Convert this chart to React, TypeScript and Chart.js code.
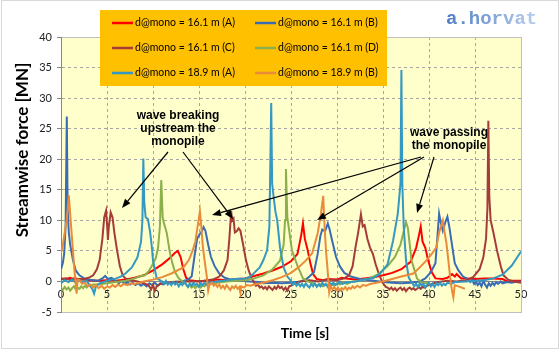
import React, { useEffect, useRef } from 'react';
import { Chart, registerables } from 'chart.js';
Chart.register(...registerables);

// ---- data (time [s], streamwise force [MN]) ----
const SERIES_LABELS = [
  'd@mono = 16.1 m (A)',
  'd@mono = 16.1 m (B)',
  'd@mono = 16.1 m (C)',
  'd@mono = 16.1 m (D)',
  'd@mono = 18.9 m (A)',
  'd@mono = 18.9 m (B)',
];
const SERIES_COLORS = ['#FF0000', '#3A6CB4', '#A53C3A', '#8CAF4B', '#3399C2', '#E98B3A'];

const S161A: [number, number][] = [[0,0.5],[0.5,0.4],[1,0.6],[1.5,0.3],[2,0.4],[3,0.2],[4,0.1],[5,0.2],[6,0.1],[7,0.3],[8,0.6],[9,1.0],[10,1.8],[11,2.8],[11.8,3.8],[12.4,4.7],[12.7,5.0],[13.0,4.0],[13.3,2.0],[13.6,0.6],[14,0.2],[15,0.0],[16,0.1],[17,0.3],[18,0.2],[19,0.4],[20,0.5],[21,0.9],[22,1.3],[23,1.8],[24,2.4],[25,3.3],[25.7,4.5],[26.1,7.5],[26.3,9.5],[26.5,7.0],[26.8,5.2],[27.1,3.0],[27.4,1.2],[27.8,0.4],[28.5,0.2],[29,0.4],[30,0.3],[30.5,0.6],[31,0.5],[32,0.3],[33,0.5],[34,0.7],[35,1.0],[36,1.4],[37,2.0],[38,3.2],[38.6,5.5],[38.9,7.5],[39.1,9.0],[39.3,6.5],[39.6,5.5],[39.9,3.5],[40.3,1.5],[40.7,0.5],[41.5,0.4],[42,0.6],[42.5,1.2],[42.8,0.8],[43,1.2],[43.5,0.5],[44,0.5],[45,0.4],[46,0.5],[47,0.5],[48,0.4],[48.5,0.0],[49,0.1],[50,0.1]];

const S161B: [number, number][] = [[0,2.0],[0.2,3.0],[0.35,4.6],[0.5,9],[0.63,27.0],[0.72,12],[0.85,8],[1.0,6],[1.3,3.5],[1.6,1.8],[2.0,1.0],[2.5,0.5],[3,0.3],[3.5,0.2],[4,0.1],[4.5,0.5],[4.8,0.9],[5.1,0.4],[5.5,0.6],[6,0.0],[6.3,-0.3],[6.6,0.1],[6.9,-0.4],[7.2,-0.1],[7.5,-0.5],[7.8,-0.2],[8.1,-0.6],[8.4,-0.3],[8.7,-0.7],[9,-0.4],[9.3,-0.8],[9.6,-0.3],[9.9,-0.6],[10.2,-0.2],[10.5,-0.7],[10.8,-0.3],[11.1,-0.5],[11.5,-0.2],[12,-0.3],[12.5,0.0],[13,-0.1],[13.8,0.3],[14.2,0.8],[14.5,4.0],[14.8,7.0],[15.1,7.8],[15.3,8.2],[15.5,8.9],[15.7,8.3],[16.0,6.0],[16.3,4.0],[16.7,2.5],[17.2,1.3],[17.8,0.6],[18.5,0.3],[19.5,0.1],[20.5,0.0],[21.5,-0.1],[22,-0.3],[23,-0.2],[24,-0.3],[25,-0.2],[26,0.0],[26.6,0.3],[27.0,0.8],[27.5,1.5],[27.9,4.5],[28.2,7.5],[28.4,8.5],[28.7,8.2],[29.0,9.5],[29.2,8.5],[29.5,6.5],[29.9,4.0],[30.3,2.5],[30.8,1.4],[31.5,0.8],[32.5,0.4],[34,0.1],[35,-0.1],[36,-0.2],[37,-0.3],[38,-0.2],[39,0.0],[39.6,0.5],[40.2,1.5],[40.7,3.0],[40.9,7.0],[41.1,11.1],[41.3,9.5],[41.5,8.3],[41.8,9.8],[42.0,10.6],[42.2,9.0],[42.5,6.0],[42.8,3.0],[43.2,1.8],[43.7,0.8],[44.3,0.3],[44.5,-0.1],[44.7,0.2],[44.9,-0.4],[45.1,0.0],[45.3,-0.6],[45.5,-0.2],[45.7,-0.8],[45.9,0.1],[46.1,-0.5],[46.3,-1.0],[46.5,-0.3],[46.7,-0.7],[46.9,-0.2],[47.1,-0.6],[47.3,-0.1],[47.5,-0.4],[47.8,0.0],[48,-0.3],[48.5,-0.1],[49,-0.2],[49.5,0.0],[50,-0.1]];

const S161C: [number, number][] = [[0,0.3],[0.5,0.5],[1,0.2],[1.5,0.6],[2,0.3],[2.5,0.4],[3,0.6],[3.5,1.0],[3.9,2.0],[4.2,3.5],[4.5,7.0],[4.7,10.5],[4.9,11.6],[5.0,9.5],[5.1,6.8],[5.2,9.0],[5.4,11.3],[5.6,10.5],[5.8,8.0],[6.1,5.0],[6.4,2.5],[6.7,1.0],[7.0,0.5],[7.5,0.2],[8,0.1],[8.5,-0.1],[9,-0.3],[9.5,-0.6],[9.8,-1.3],[10.0,-0.6],[10.2,-1.5],[10.4,-0.8],[10.8,-0.4],[11.5,-0.2],[12.5,-0.1],[13.5,0.0],[14.5,0.0],[15.5,0.1],[16.5,0.3],[17.2,0.8],[17.7,1.8],[18.1,3.5],[18.3,7.0],[18.5,11.5],[18.6,10.0],[18.75,10.3],[18.9,8.0],[19.1,8.2],[19.3,8.7],[19.5,8.3],[19.8,6.0],[20.1,3.5],[20.4,1.8],[20.7,0.6],[21.0,-0.2],[21.2,-0.7],[21.4,-0.5],[21.6,-1.0],[21.8,-0.8],[22.0,-1.2],[22.2,-0.9],[22.4,-1.3],[22.6,-0.8],[22.8,-1.1],[23.0,-1.4],[23.2,-0.9],[23.4,-1.2],[23.6,-0.7],[23.8,-1.1],[24.0,-0.9],[24.2,-1.4],[24.4,-1.0],[24.6,-1.5],[24.8,-0.8],[25.0,-0.7],[25.3,-0.4],[25.5,-0.3],[26,0.0],[27,0.2],[28,0.0],[29,0.3],[30,0.2],[30.8,0.5],[31.3,1.0],[31.7,2.5],[32.0,5.5],[32.3,8.0],[32.6,11.0],[32.8,9.0],[33.0,9.2],[33.3,7.0],[33.6,5.5],[33.9,4.5],[34.2,2.8],[34.6,1.0],[35.0,-0.3],[35.3,-0.9],[35.5,-1.0],[35.7,-1.3],[35.9,-1.0],[36.1,-1.4],[36.3,-1.1],[36.5,-1.5],[36.7,-1.2],[36.9,-1.0],[37.1,-1.4],[37.3,-1.1],[37.5,-1.6],[37.7,-1.2],[37.9,-1.0],[38.1,-1.3],[38.3,-1.1],[38.5,-1.4],[38.7,-1.2],[38.9,-0.9],[39.1,-1.2],[39.3,-0.9],[39.5,-1.0],[39.8,-0.7],[40,-0.6],[40.5,-0.3],[41,-0.1],[42,0.1],[43,0.0],[44,0.2],[44.8,0.7],[45.5,2.0],[45.9,3.9],[46.2,7.0],[46.35,12.0],[46.45,26.3],[46.55,14.0],[46.7,10.0],[47.0,8.0],[47.4,5.0],[47.8,2.5],[48.1,1.0],[48.6,0.3],[49.2,0.0],[50,-0.2]];

const S161D: [number, number][] = [[0,-1.0],[0.2,-1.4],[0.4,-0.9],[0.6,-1.3],[0.8,-1.0],[1,-1.5],[1.2,-1.1],[1.4,-0.8],[1.6,-1.3],[1.8,-1.0],[2,-1.2],[2.2,-0.8],[2.4,-1.1],[2.6,-0.7],[2.8,-1.0],[3,-0.6],[3.3,-0.8],[3.5,-0.5],[4,-0.5],[5,-0.3],[6,-0.1],[7,0.1],[7.5,0.3],[8,0.5],[8.5,0.8],[9.1,1.0],[9.5,1.6],[9.9,2.6],[10.3,3.8],[10.55,5.5],[10.75,9.0],[10.9,16.6],[11.05,10.5],[11.2,9.5],[11.5,7.9],[11.8,5.0],[12.1,3.0],[12.4,1.5],[12.8,0.5],[13.2,0.0],[13.6,-0.5],[13.8,-0.9],[14,-0.6],[14.2,-1.0],[14.4,-0.7],[14.6,-1.1],[14.8,-0.8],[15,-0.6],[15.2,-1.0],[15.4,-0.6],[15.6,-0.8],[15.8,-0.4],[16,-0.7],[16.3,-0.3],[16.6,-0.5],[17,-0.2],[18,0.0],[19,0.1],[20,0.2],[21,0.5],[22,1.0],[23,2.0],[23.8,3.4],[24.2,6.0],[24.35,10.0],[24.45,18.4],[24.6,10.5],[24.75,8.9],[25.1,5.1],[25.7,2.6],[26.3,0.5],[26.8,0.0],[27.5,-0.3],[27.8,-0.7],[28.1,-0.4],[28.4,-0.8],[28.7,-0.5],[29,-0.7],[29.3,-0.3],[29.6,-0.6],[30,-0.3],[30.3,-0.5],[30.7,-0.2],[31.1,-0.4],[31.5,-0.1],[32.5,0.1],[33.5,0.5],[34.5,1.2],[35.5,2.5],[36.3,4.0],[36.9,6.0],[37.3,8.5],[37.5,9.7],[37.7,8.8],[38.1,3.4],[38.7,0.5],[39.2,-0.2],[40,-0.3]];

const S189A: [number, number][] = [[0,-0.3],[0.4,0.2],[0.8,-0.1],[1.2,0.3],[1.6,-0.2],[2,0.2],[2.4,-0.1],[2.8,0.1],[3.1,-0.6],[3.4,-1.2],[3.6,-2.0],[3.8,-0.8],[4.2,-0.3],[4.8,0.0],[5.5,0.3],[6,0.5],[6.5,0.8],[7.0,1.3],[7.7,2.3],[8.3,3.9],[8.7,6.5],[8.85,10.0],[8.95,20.1],[9.05,13.0],[9.2,10.5],[9.45,10.2],[9.7,7.9],[9.85,6.0],[10.0,3.4],[10.4,0.5],[11.0,0.0],[11.2,-0.4],[11.4,0.1],[11.6,-0.5],[11.8,-0.2],[12,-0.6],[12.2,-0.1],[12.4,-0.5],[12.6,-0.2],[12.8,-0.8],[13,-0.3],[13.2,-0.6],[13.4,0.0],[13.6,-0.5],[13.8,-0.9],[14,-0.3],[14.2,-0.7],[14.4,-0.2],[14.6,-0.6],[14.8,-0.4],[15,-0.9],[15.2,-0.3],[15.4,-0.6],[15.6,-0.2],[15.8,-0.5],[16,-0.2],[17,0.0],[18,0.2],[19,0.4],[20,0.5],[20.5,0.7],[21.0,1.4],[21.6,2.3],[22.0,3.5],[22.4,5.1],[22.65,9.0],[22.85,29.2],[22.95,16.0],[23.1,14.0],[23.3,11.5],[23.5,10.0],[23.8,5.6],[24.2,2.3],[24.6,0.8],[25.0,0.1],[25.2,-0.5],[25.4,-0.2],[25.6,-0.7],[25.8,-0.3],[26,-0.8],[26.2,-0.4],[26.4,-0.9],[26.6,-0.3],[26.8,-0.7],[27,-1.0],[27.2,-0.4],[27.4,-0.8],[27.6,-0.3],[27.8,-0.9],[28,-0.5],[28.2,-0.8],[28.4,-0.2],[28.6,-0.7],[28.8,-0.4],[29,-0.9],[29.2,-0.3],[29.4,-0.6],[29.6,-0.2],[29.8,-0.6],[30,-0.4],[30.3,-0.1],[30.6,-0.4],[31,-0.2],[32,0.0],[33,0.3],[34,0.6],[34.7,1.3],[35.5,2.8],[36.1,6.7],[36.6,11.0],[36.9,16.0],[37.0,34.6],[37.1,16.0],[37.25,9.0],[37.5,3.5],[37.8,0.6],[38.2,-0.3],[38.4,-0.8],[38.6,-0.4],[38.8,-0.9],[39,-0.3],[39.2,-0.7],[39.4,-0.4],[39.6,-1.0],[39.8,-0.5],[40,-0.2],[40.2,-0.8],[40.4,-0.4],[40.6,-0.9],[40.8,-0.3],[41,-0.6],[41.2,-0.2],[41.4,-0.7],[41.6,-0.4],[41.8,-0.6],[42,-0.2],[42.4,-0.4],[42.8,-0.1],[43,-0.1],[44,0.0],[45,0.1],[46,0.2],[47,0.5],[48,1.1],[49,2.6],[50,4.9]];

const S189B: [number, number][] = [[0,4.7],[0.2,6.0],[0.4,8.0],[0.65,10.5],[0.85,14.1],[1.0,11.0],[1.15,8.0],[1.3,5.0],[1.45,2.0],[1.6,-0.5],[1.7,-2.0],[1.8,0.3],[2.0,0.2],[2.3,-0.4],[2.6,-0.2],[2.9,-0.8],[3.2,-0.5],[3.5,-1.0],[3.8,-0.6],[4.1,-1.1],[4.4,-0.7],[4.7,-1.2],[5.0,-0.8],[5.3,-1.0],[5.6,-0.6],[5.9,-0.9],[6.2,-0.5],[6.5,-0.8],[6.8,-0.4],[7.2,-0.6],[7.6,-0.3],[8,-0.4],[9,0.0],[10,0.3],[11,0.7],[12,1.3],[13.3,2.3],[13.9,3.5],[14.3,5.0],[14.6,6.5],[14.9,9.5],[15.1,11.5],[15.25,9.0],[15.4,6.0],[15.6,3.5],[15.85,0.8],[16.0,-1.5],[16.15,-0.5],[16.4,-0.2],[16.6,-0.7],[16.8,-0.4],[17,-0.9],[17.2,-0.5],[17.4,-1.1],[17.6,-0.7],[17.8,-1.2],[18,-0.6],[18.2,-1.0],[18.4,-1.4],[18.6,-0.8],[18.8,-1.1],[19,-0.7],[19.2,-1.2],[19.4,-0.9],[19.5,-1.8],[19.6,-0.8],[19.9,-1.0],[20.2,-0.6],[20.6,-0.7],[21,-0.5],[22,-0.2],[23,0.2],[24,0.7],[25,1.4],[25.8,2.3],[26.6,3.4],[27.3,4.6],[27.9,7.9],[28.25,11.0],[28.5,14.0],[28.65,9.0],[28.8,5.1],[29.0,1.5],[29.15,-1.8],[29.3,-0.8],[29.5,-1.3],[29.7,-0.9],[29.9,-1.4],[30.1,-1.0],[30.3,-1.5],[30.5,-1.1],[30.7,-1.3],[30.9,-0.9],[31.1,-1.4],[31.3,-1.0],[31.5,-1.2],[31.7,-0.8],[31.9,-1.1],[32.2,-0.7],[32.5,-1.0],[32.8,-0.6],[33.2,-0.7],[33.6,-0.4],[34,-0.3],[35,0.0],[36,0.4],[37,0.8],[38.3,1.3],[39.0,2.3],[39.7,3.4],[40.3,4.5],[40.8,5.6],[41.1,8.0],[41.5,10.0],[41.7,8.0],[41.9,6.2],[42.1,3.5],[42.3,0.7],[42.5,-1.5],[42.65,-2.6],[42.8,-0.6],[43.2,-0.8],[43.9,-1.2]];

const SERIES_DATA = [S161A, S161B, S161C, S161D, S189A, S189B];

const X_MIN = 0, X_MAX = 50, X_STEP = 5;
const Y_MIN = -5, Y_MAX = 40, Y_STEP = 5;

const X_TITLE = 'Time [s]';
const Y_TITLE = 'Streamwise force [MN]';
const NOTE_BREAKING = ['wave breaking', 'upstream the', 'monopile'];
const NOTE_PASSING = ['wave passing', 'the monopile'];
const WATERMARK = 'a.horvat';

function arrow(ctx: CanvasRenderingContext2D, x1: number, y1: number, x2: number, y2: number) {
  const ang = Math.atan2(y2 - y1, x2 - x1);
  const len = 9, hw = 3.5;
  const bx = x2 - len * Math.cos(ang), by = y2 - len * Math.sin(ang);
  ctx.beginPath();
  ctx.moveTo(x1, y1);
  ctx.lineTo(bx, by);
  ctx.stroke();
  ctx.beginPath();
  ctx.moveTo(x2, y2);
  ctx.lineTo(bx + hw * Math.sin(ang), by - hw * Math.cos(ang));
  ctx.lineTo(bx - hw * Math.sin(ang), by + hw * Math.cos(ang));
  ctx.closePath();
  ctx.fill();
}

const decorPlugin = {
  id: 'decor',
  beforeDraw(chart: any) {
    const { ctx, chartArea: a } = chart;
    ctx.save();
    ctx.fillStyle = '#FFFFFF';
    ctx.fillRect(0, 0, chart.width, chart.height);
    ctx.strokeStyle = '#D9D9D9';
    ctx.lineWidth = 1;
    ctx.strokeRect(1.5, 0.5, 557, 348);
    ctx.fillStyle = '#FFFFCC';
    ctx.fillRect(a.left, a.top, a.right - a.left, a.bottom - a.top);
    ctx.restore();
  },
  beforeDatasetsDraw(chart: any) {
    const { ctx, chartArea: a } = chart;
    ctx.save();
    ctx.strokeStyle = '#BFBFBF';
    ctx.lineWidth = 1;
    ctx.strokeRect(a.left + 0.5, a.top + 0.5, a.right - a.left, a.bottom - a.top);
    ctx.strokeStyle = '#868686';
    ctx.beginPath();
    ctx.moveTo(a.left + 0.5, a.top);
    ctx.lineTo(a.left + 0.5, a.bottom + 1);
    ctx.stroke();
    ctx.restore();
  },
  afterDraw(chart: any) {
    const { ctx } = chart;
    ctx.save();
    // legend box
    ctx.fillStyle = '#FFC000';
    ctx.fillRect(100, 10, 287, 76);
    ctx.font = '10.5px Lato';
    ctx.textBaseline = 'middle';
    ctx.textAlign = 'left';
    SERIES_LABELS.forEach((lab, i) => {
      const col = i % 2, row = Math.floor(i / 2);
      const x0 = col === 0 ? 112 : 255;
      const y0 = 23 + row * 25;
      ctx.strokeStyle = SERIES_COLORS[i];
      ctx.lineWidth = 2.5;
      ctx.beginPath();
      ctx.moveTo(x0, y0);
      ctx.lineTo(x0 + 21, y0);
      ctx.stroke();
      ctx.fillStyle = '#000000';
      ctx.fillText(lab, x0 + 23, y0);
    });
    // annotations
    ctx.fillStyle = '#000000';
    ctx.font = 'bold 12px "Liberation Sans"';
    ctx.textAlign = 'center';
    NOTE_BREAKING.forEach((t, i) => ctx.fillText(t, 178, 116 + i * 13));
    NOTE_PASSING.forEach((t, i) => ctx.fillText(t, 449, 133 + i * 13));
    ctx.strokeStyle = '#000000';
    ctx.fillStyle = '#000000';
    ctx.lineWidth = 1.2;
    arrow(ctx, 168, 152, 122, 208);
    arrow(ctx, 183, 152, 233, 219);
    arrow(ctx, 421, 157, 212, 215);
    arrow(ctx, 424, 157, 317, 220);
    arrow(ctx, 434, 157, 417, 213);
    // axis titles
    ctx.fillStyle = '#000000';
    ctx.font = 'bold 14px Lato';
    ctx.textAlign = 'center';
    ctx.textBaseline = 'middle';
    ctx.fillText(X_TITLE, 305, 333);
    ctx.save();
    ctx.translate(23, 150);
    ctx.rotate(-Math.PI / 2);
    ctx.font = 'bold 17px Lato';
    ctx.fillText(Y_TITLE, 0, 0);
    ctx.restore();
    // watermark
    const g = ctx.createLinearGradient(446, 0, 540, 0);
    g.addColorStop(0, '#4F7CC2');
    g.addColorStop(1, '#BCD1F1');
    ctx.fillStyle = g;
    ctx.font = 'bold 19px "Liberation Mono"';
    ctx.textAlign = 'left';
    ctx.textBaseline = 'alphabetic';
    ctx.fillText(WATERMARK, 446, 24);
    ctx.restore();
  },
};

export default function App() {
  const ref = useRef<HTMLCanvasElement | null>(null);
  useEffect(() => {
    document.body.style.margin = '0';
    const canvas = ref.current;
    if (!canvas) return;
    const chart = new Chart(canvas, {
      type: 'line',
      data: {
        datasets: SERIES_DATA.map((d, i) => ({
          label: SERIES_LABELS[i],
          data: d.map(([x, y]) => ({ x, y })),
          borderColor: SERIES_COLORS[i],
          backgroundColor: SERIES_COLORS[i],
          borderWidth: 2,
          pointRadius: 0,
          tension: 0,
          fill: false,
          order: SERIES_DATA.length - i,
        })),
      },
      options: {
        animation: false,
        responsive: false,
        maintainAspectRatio: false,
        layout: { padding: { left: 0, top: 37, right: 39, bottom: 45 } },
        plugins: { legend: { display: false }, tooltip: { enabled: false }, title: { display: false } },
        scales: {
          x: {
            type: 'linear',
            position: { y: 0 } as any,
            min: X_MIN,
            max: X_MAX,
            ticks: { stepSize: X_STEP, color: '#222', font: { family: 'Lato', size: 11 }, padding: 3, maxRotation: 0 },
            grid: { color: '#A6A6A6', lineWidth: 1, drawTicks: true, tickLength: 3, tickColor: '#868686' },
            border: { display: true, color: '#868686', dash: [3, 3] },
          },
          y: {
            type: 'linear',
            min: Y_MIN,
            max: Y_MAX,
            ticks: { stepSize: Y_STEP, color: '#222', font: { family: 'Lato', size: 11 }, padding: 5 },
            grid: { color: '#A6A6A6', lineWidth: 1, drawTicks: true, tickLength: 4, tickColor: '#868686' },
            border: { display: true, color: '#868686', dash: [3, 3] },
            afterFit: (scale: any) => { scale.width = 61; },
          },
        },
      },
      plugins: [decorPlugin],
    });
    return () => chart.destroy();
  }, []);
  return (
    <div style={{ width: 560, height: 357 }}>
      <canvas ref={ref} width={560} height={357} style={{ display: 'block' }} />
    </div>
  );
}
